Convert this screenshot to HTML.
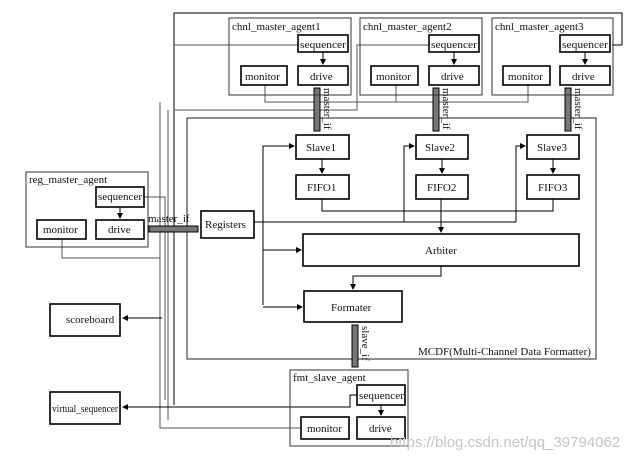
<!DOCTYPE html><html><head><style>body{margin:0;background:#fff}svg{display:block}text{font-family:"Liberation Serif",serif;font-size:11px;fill:#111}</style></head><body>
<svg width="639" height="459" viewBox="0 0 639 459">
<defs><marker id="a" markerWidth="6" markerHeight="6" refX="5" refY="3" orient="auto"><path d="M0,0L6,3L0,6z" fill="#000"/></marker></defs>
<g fill="none" stroke="#555" stroke-width="1">
<path d="M612,45H622V13H174V405" stroke="#000"/>
<path d="M298,45H174"/>
<path d="M429,45H357V110H175"/>
<path d="M265,85V102H528V85"/><path d="M396,85V102"/>
<path d="M160,102V428H300"/>
<path d="M187,118H596V359H187Z" stroke="#222"/>
<path d="M144,197H165V400"/>
<path d="M62,239V258H160"/>
<path d="M168,110V420"/>
<path d="M162,318H123" marker-end="url(#a)" stroke="#000"/>
<path d="M357,395H350V407H123" marker-end="url(#a)" stroke="#000"/>
<g stroke="#000">
<path d="M263,305V146H294" marker-end="url(#a)"/>
<path d="M263,250H301" marker-end="url(#a)"/>
<path d="M263,307H302" marker-end="url(#a)"/>
<path d="M254,222H516"/>
<path d="M404,222V146H414" marker-end="url(#a)"/>
<path d="M516,222V146H525" marker-end="url(#a)"/>
<path d="M322,199V211H553V199"/>
<path d="M441,199V232" marker-end="url(#a)"/>
<path d="M441,266V276H353V289" marker-end="url(#a)"/>
<path d="M322,159V173" marker-end="url(#a)"/><path d="M442,159V173" marker-end="url(#a)"/><path d="M553,159V173" marker-end="url(#a)"/>
<path d="M323,52V64" marker-end="url(#a)"/><path d="M454,52V64" marker-end="url(#a)"/><path d="M585,52V64" marker-end="url(#a)"/>
<path d="M120,207V218" marker-end="url(#a)"/><path d="M381,405V415" marker-end="url(#a)"/>
</g></g>
<g fill="#777" stroke="#000" stroke-width="1">
<rect x="314" y="88" width="6" height="43"/><rect x="433" y="88" width="6" height="43"/><rect x="565" y="88" width="6" height="43"/>
<rect x="149" y="226" width="49" height="6"/><rect x="352" y="325" width="6" height="42"/>
</g>
<g fill="none" stroke-width="1.6" stroke="#000">
<rect x="298" y="35" width="50" height="17"/><rect x="298" y="66" width="50" height="19"/><rect x="241" y="66" width="46" height="19"/>
<rect x="429" y="35" width="50" height="17"/><rect x="429" y="66" width="50" height="19"/><rect x="371" y="66" width="47" height="19"/>
<rect x="560" y="35" width="50" height="17"/><rect x="560" y="66" width="50" height="19"/><rect x="503" y="66" width="47" height="19"/>
<rect x="296" y="135" width="53" height="24"/><rect x="416" y="135" width="52" height="24"/><rect x="527" y="135" width="52" height="24"/>
<rect x="296" y="175" width="53" height="24"/><rect x="416" y="175" width="52" height="24"/><rect x="527" y="175" width="52" height="24"/>
<rect x="303" y="234" width="276" height="32"/><rect x="304" y="291" width="98" height="31"/><rect x="201" y="211" width="53" height="27"/>
<rect x="96" y="187" width="48" height="20"/><rect x="96" y="220" width="48" height="19"/><rect x="37" y="220" width="49" height="19"/>
<rect x="50" y="304" width="70" height="32"/><rect x="50" y="392" width="70" height="32"/>
<rect x="357" y="385" width="48" height="20"/><rect x="357" y="417" width="48" height="22"/><rect x="301" y="417" width="48" height="22"/>
</g>
<g fill="none" stroke="#333" stroke-width="1">
<rect x="229" y="18" width="122" height="77"/><rect x="360" y="18" width="122" height="77"/><rect x="492" y="18" width="121" height="77"/>
<rect x="26" y="172" width="122" height="75"/><rect x="290" y="370" width="118" height="76"/>
</g>
<g>
<text x="232" y="30">chnl_master_agent1</text><text x="363" y="30">chnl_master_agent2</text><text x="495" y="30">chnl_master_agent3</text>
<text x="300" y="48" textLength="46" lengthAdjust="spacingAndGlyphs">sequencer</text><text x="431" y="48" textLength="46" lengthAdjust="spacingAndGlyphs">sequencer</text><text x="562" y="48" textLength="46" lengthAdjust="spacingAndGlyphs">sequencer</text>
<text x="310" y="80">drive</text><text x="441" y="80">drive</text><text x="572" y="80">drive</text>
<text x="245" y="80">monitor</text><text x="376" y="80">monitor</text><text x="508" y="80">monitor</text>
<text x="306" y="151">Slave1</text><text x="425" y="151">Slave2</text><text x="537" y="151">Slave3</text>
<text x="307" y="191">FIFO1</text><text x="427" y="191">FIFO2</text><text x="538" y="191">FIFO3</text>
<text x="425" y="254">Arbiter</text><text x="331" y="311">Formater</text><text x="205" y="228">Registers</text>
<text x="29" y="183">reg_master_agent</text><text x="98" y="200" textLength="44" lengthAdjust="spacingAndGlyphs">sequencer</text><text x="108" y="233">drive</text><text x="43" y="233">monitor</text>
<text x="148" y="222">master_if</text>
<text x="66" y="323">scoreboard</text><text x="52" y="412" textLength="66" lengthAdjust="spacingAndGlyphs">virtual_sequencer</text>
<text x="293" y="381">fmt_slave_agent</text><text x="359" y="399" textLength="45" lengthAdjust="spacingAndGlyphs">sequencer</text><text x="369" y="432">drive</text><text x="307" y="432">monitor</text>
<text x="418" y="355">MCDF(Multi-Channel Data Formatter)</text>
<text transform="translate(324,88) rotate(90)">master_if</text><text transform="translate(443,88) rotate(90)">master_if</text><text transform="translate(575,88) rotate(90)">master_if</text>
<text transform="translate(362,326) rotate(90)">slave_if</text>
<text x="390" y="447" style="font-family:'Liberation Sans',sans-serif;font-size:15px;fill:#c4c4c4">https://blog.csdn.net/qq_39794062</text>
</g>
</svg></body></html>
